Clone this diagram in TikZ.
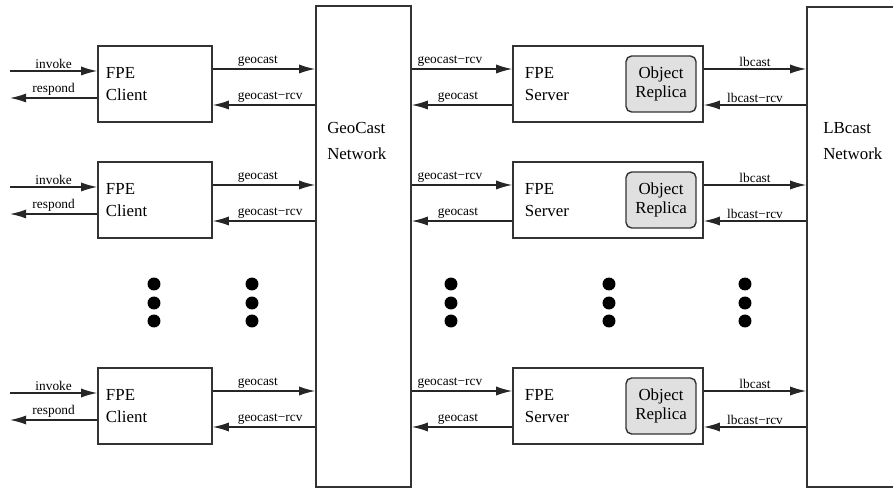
\documentclass[tikz,border=0pt]{standalone}
\usepackage{fontspec}
\setmainfont{Liberation Serif}
\usetikzlibrary{arrows.meta}
\tikzset{box/.style={draw=black!80, line width=1pt, minimum height=1.9cm, inner xsep=0.2cm, align=left, font=\fontsize{12}{16}\selectfont}}
\tikzset{client/.style={box, text width=2.45cm}, server/.style={box, inner xsep=0.3cm, text width=4.15cm}}
\tikzset{replica/.style={draw=black!80, line width=1pt, fill=black!12, rounded corners=4pt, minimum width=1.75cm, minimum height=1.4cm, inner sep=0pt, align=center, font=\fontsize{12}{13}\selectfont}}
\tikzset{net/.style={draw=black!80, line width=1pt, inner sep=0pt}, nettext/.style={anchor=west, align=left, inner sep=0pt, font=\fontsize{12}{18}\selectfont}}
\tikzset{msg/.style={draw=black!85, line width=1pt, -{Latex[length=11.5pt,width=6.5pt]}}, lbl/.style={above, inner sep=1.5pt, font=\fontsize{9.5}{11}\selectfont}}

\begin{document}
\begin{tikzpicture}[x=0.025cm, y=-0.025cm]
            \useasboundingbox (0,0) rectangle (893,490);
            \node[net, minimum width=2.375cm, minimum height=12.025cm] (geo) at (363.5,246.5) {};
            \node[net, minimum width=2.2cm, minimum height=12cm] (lb) at (851,247) {};
            \node[nettext] (geotxt) at (327,141) {GeoCast\\Network};
            \node[nettext] (lbtxt) at (823,141) {LBcast\\Network};
            % one client and one server per row
            \foreach \r/\yc in {1/84, 2/200, 3/406} {
                \node[client] (cl\r) at (155,\yc) {FPE\\Client};
                \node[server] (sv\r) at (608,\yc) {FPE\\Server};
                \node[replica, anchor=east] (rep\r) at ([xshift=-0.175cm]sv\r.east) {Object\\Replica};
                \coordinate (inv\r) at (10,\yc-13); \coordinate (rsp\r) at (10,\yc+14);
                \coordinate (up\r) at (0,\yc-15); \coordinate (dn\r) at (0,\yc+21);
                \draw[msg] (inv\r) -- node[lbl] (linv\r) {invoke} (inv\r -| cl\r.west);
                \draw[msg] (cl\r.west |- rsp\r) -- node[lbl] (lrsp\r) {respond} (rsp\r);
                \draw[msg] (cl\r.east |- up\r) -- node[lbl, pos=0.44] (lgc\r) {geocast} (geo.west |- up\r);
                \draw[msg] (geo.west |- dn\r) -- node[lbl, pos=0.44] (lgr\r) {geocast−rcv} (cl\r.east |- dn\r);
                \draw[msg] (geo.east |- up\r) -- node[lbl, pos=0.38] (lsr\r) {geocast−rcv} (sv\r.west |- up\r);
                \draw[msg] (sv\r.west |- dn\r) -- node[lbl, pos=0.54] (lsc\r) {geocast} (geo.east |- dn\r);
                \draw[msg] (sv\r.east |- up\r) -- node[lbl] (llb\r) {lbcast} (lb.west |- up\r);
                \draw[msg] (lb.west |- dn\r) -- node[lbl] (llr\r) {lbcast−rcv} (sv\r.east |- dn\r);
            }
            % more rows left out
            \foreach \x in {154, 252, 451, 609, 745}
                \foreach \y in {284, 303, 321}
                    \fill (\x,\y) circle (4.6pt);
        \end{tikzpicture}
\end{document}
